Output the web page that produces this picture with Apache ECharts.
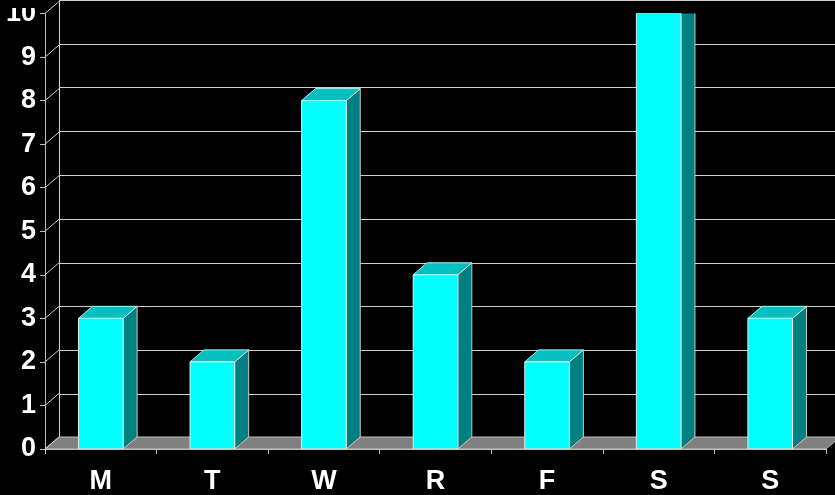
<!DOCTYPE html>
<html>
<head>
<meta charset="utf-8">
<script src="https://cdn.jsdelivr.net/npm/echarts@6/dist/echarts.min.js"></script>
<style>
  html, body { margin: 0; padding: 0; background: #000; }
  #chart { width: 835px; height: 495px; }
</style>
</head>
<body>
<div id="chart"></div>
<script>
'use strict'

const days = ['M', 'T', 'W', 'R', 'F', 'S', 'S']
const counts = [3, 2, 8, 4, 2, 10, 3]
const yTicks = [0, 1, 2, 3, 4, 5, 6, 7, 8, 9, 10]

// depth of the fake 3D effect, in pixels
const DX = 14
const DY = -12

const font = 'Liberation Sans, Arial, sans-serif'
const gridColor = '#d0d0d0'

function renderBar(params, api) {
    const idx = api.value(0)
    const top = api.coord([idx, api.value(1)])
    const base = api.coord([idx, 0])
    const w = api.size([1, 0])[0] * 0.4
    const x0 = top[0] - w / 2
    const x1 = top[0] + w / 2
    return {
        type: 'group',
        children: [{
            type: 'polygon',
            shape: { points: [[x1, top[1]], [x1 + DX, top[1] + DY], [x1 + DX, base[1] + DY], [x1, base[1]]] },
            style: { fill: '#008080', stroke: '#c8c8c8', lineWidth: 1 }
        }, {
            type: 'polygon',
            shape: { points: [[x0, top[1]], [x0 + DX, top[1] + DY], [x1 + DX, top[1] + DY], [x1, top[1]]] },
            style: { fill: '#00c0c0', stroke: '#e0e0e0', lineWidth: 1 }
        }, {
            type: 'rect',
            shape: { x: x0, y: top[1], width: w, height: base[1] - top[1] },
            style: { fill: '#00ffff', stroke: '#e8e8e8', lineWidth: 1 }
        }]
    }
}

function renderFrame(params, api) {
    const cs = params.coordSys
    const p = api.coord([0, api.value(0)])
    const xl = cs.x
    const children = [{
        type: 'line',
        shape: { x1: xl, y1: p[1], x2: xl + DX, y2: p[1] + DY },
        style: { stroke: gridColor, lineWidth: 1 }
    }]
    if (api.value(0) === 0) {
        const xr = cs.x + cs.width
        children.unshift({
            type: 'polygon',
            shape: { points: [[xl, p[1]], [xl + DX, p[1] + DY], [xr + DX, p[1] + DY], [xr, p[1]]] },
            style: { fill: '#808080', stroke: '#c0c0c0', lineWidth: 1 }
        })
    }
    return { type: 'group', children: children }
}

const chart = echarts.init(document.getElementById('chart'))
chart.setOption({
    backgroundColor: '#000',
    animation: false,
    grid: [
        { left: 45, right: 9, top: 10, bottom: 45 },
        { left: 45 + DX, right: 9 - DX, top: 10 + DY, bottom: 45 - DY }
    ],
    // the source picture is cut off just above the plot, hiding the top of "10"
    graphic: [{
        type: 'rect',
        left: 0,
        top: 0,
        z: 100,
        shape: { width: 44, height: 8 },
        style: { fill: '#000' }
    }],
    xAxis: [{
        type: 'category',
        gridIndex: 0,
        data: days,
        axisLine: { lineStyle: { color: '#c0c0c0', width: 1 } },
        axisTick: { show: true, length: 5, lineStyle: { color: '#c0c0c0' } },
        axisLabel: { color: '#fff', fontFamily: font, fontWeight: 'bold', fontSize: 27, margin: 19 }
    }, {
        type: 'category',
        gridIndex: 1,
        data: days,
        show: false
    }],
    yAxis: [{
        type: 'value',
        gridIndex: 0,
        min: 0,
        max: 10,
        interval: 1,
        splitLine: { show: false },
        axisLine: { show: true, lineStyle: { color: '#c0c0c0', width: 1 } },
        axisTick: { show: true, length: 5, lineStyle: { color: '#c0c0c0' } },
        axisLabel: { color: '#fff', fontFamily: font, fontWeight: 'bold', fontSize: 27, margin: 9 }
    }, {
        type: 'value',
        gridIndex: 1,
        min: 0,
        max: 10,
        interval: 1,
        axisLine: { show: true, lineStyle: { color: gridColor, width: 1 } },
        axisTick: { show: false },
        axisLabel: { show: false },
        splitLine: { show: true, lineStyle: { color: gridColor, width: 1 } }
    }],
    series: [{
        type: 'custom',
        xAxisIndex: 0,
        yAxisIndex: 0,
        clip: false,
        silent: true,
        z: 1,
        renderItem: renderFrame,
        data: yTicks.map(v => [v])
    }, {
        type: 'custom',
        xAxisIndex: 0,
        yAxisIndex: 0,
        clip: true,
        z: 3,
        renderItem: renderBar,
        data: counts.map((v, k) => [k, v])
    }]
})
</script>
</body>
</html>
